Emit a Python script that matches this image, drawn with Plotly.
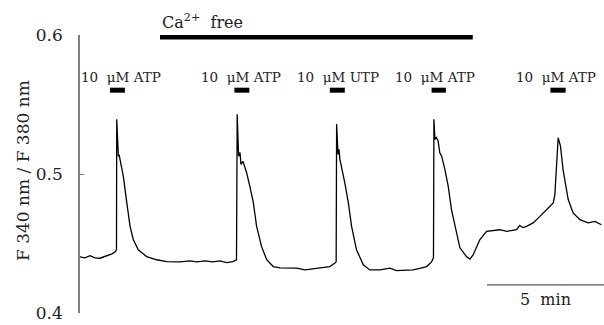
import plotly.graph_objects as go

# time (min) and F340/F380 ratio
time_min = [0, 0.21, 0.43, 0.64, 0.85, 1.03, 1.20, 1.37, 1.50, 1.56,
            1.57, 1.59, 1.62, 1.64, 1.67, 1.71, 1.85, 2.00, 2.14, 2.28, 2.49, 2.85, 3.28, 3.71,
            4.27, 4.70, 4.99, 5.34, 5.68, 5.98, 6.27, 6.54, 6.69,
            6.72, 6.75, 6.78, 6.84, 6.88, 6.97, 7.12, 7.26, 7.41, 7.55, 7.76, 7.98, 8.26, 8.55,
            9.26, 9.62, 9.96, 10.26, 10.68, 10.90, 10.95,
            10.97, 11.00, 11.03, 11.07, 11.11, 11.32, 11.47, 11.61, 11.82, 12.11, 12.39, 12.82,
            13.25, 13.53, 13.89, 14.23, 14.53, 14.82, 15.03, 15.11,
            15.13, 15.17, 15.23, 15.31, 15.38, 15.46, 15.60, 15.74, 15.88, 16.03, 16.24, 16.53,
            16.67, 16.81, 17.09, 17.38, 17.95, 18.24, 18.66, 18.80, 18.93, 19.09, 19.37, 19.66,
            19.94, 20.23, 20.30, 20.37, 20.44, 20.54, 20.65, 20.87, 21.08, 21.37, 21.72, 22.01, 22.29]
ratio = [0.4404, 0.4397, 0.4412, 0.4397, 0.4394, 0.4404, 0.4419, 0.4426, 0.4440, 0.4455,
         0.5393, 0.5336, 0.5249, 0.5126, 0.5140, 0.5105, 0.4984, 0.4794, 0.4623, 0.4527, 0.4455, 0.4406, 0.4383, 0.4370,
         0.4368, 0.4375, 0.4368, 0.4375, 0.4368, 0.4375, 0.4363, 0.4370, 0.4383,
         0.5430, 0.5177, 0.5128, 0.5155, 0.5069, 0.5090, 0.5011, 0.4912, 0.4794, 0.4623, 0.4479, 0.4383, 0.4334, 0.4325,
         0.4323, 0.4310, 0.4318, 0.4325, 0.4334, 0.4359, 0.4368,
         0.5359, 0.5273, 0.5141, 0.5177, 0.5105, 0.4936, 0.4794, 0.4623, 0.4455, 0.4347, 0.4310, 0.4310,
         0.4323, 0.4305, 0.4310, 0.4310, 0.4321, 0.4334, 0.4368, 0.4397,
         0.5393, 0.5249, 0.5263, 0.5237, 0.5153, 0.5128, 0.5032, 0.4912, 0.4744, 0.4623, 0.4469, 0.4404,
         0.4388, 0.4419, 0.4527, 0.4587, 0.4599, 0.4587, 0.4599, 0.4630, 0.4614, 0.4623, 0.4648, 0.4695,
         0.4744, 0.4792, 0.4852, 0.5105, 0.5261, 0.5201, 0.5032, 0.4816, 0.4720, 0.4671, 0.4648, 0.4659, 0.4635]

# agonist applications (start, end in min) and labels
stim_start = [1.28, 6.60, 10.68, 15.03, 20.11]
stim_end = [1.92, 7.24, 11.32, 15.64, 20.76]
stim_label_x = [1.77, 6.88, 11.03, 15.17, 20.34]
stim_labels = ["10\u00a0 μM ATP", "10\u00a0 μM ATP", "10\u00a0 μM UTP", "10\u00a0 μM ATP", "10\u00a0 μM ATP"]

# Ca2+-free period
ca_free = [3.42, 16.79]

y_ticks = [0.4, 0.5, 0.6]
y_ticktext = ["0.4", "0.5", "0.6"]

scale_bar = [17.4, 22.4]  # 5 min

FONT = "DejaVu Serif"
TXT = "#222222"

fig = go.Figure()
fig.add_trace(go.Scatter(x=time_min, y=ratio, mode="lines",
                         line=dict(color="black", width=1.3), showlegend=False,
                         hoverinfo="skip"))

shapes = []
for s, e in zip(stim_start, stim_end):
    shapes.append(dict(type="line", xref="x", yref="y", x0=s, x1=e, y0=0.5603, y1=0.5603,
                       line=dict(color="black", width=5)))
shapes.append(dict(type="line", xref="x", yref="y", x0=ca_free[0], x1=ca_free[1],
                   y0=0.5986, y1=0.5986, line=dict(color="black", width=5)))
shapes.append(dict(type="line", xref="x", yref="y", x0=scale_bar[0], x1=scale_bar[1],
                   y0=0.4202, y1=0.4202, line=dict(color="#555555", width=1.2)))

annotations = []
for xl, lab in zip(stim_label_x, stim_labels):
    annotations.append(dict(x=xl, y=0.5697, xref="x", yref="y", text=lab, showarrow=False,
                            font=dict(family=FONT, size=13.5, color=TXT),
                            xanchor="center", yanchor="middle"))
annotations.append(dict(x=ca_free[0], y=1.047, xref="x", yref="paper",
                        text="Ca<sup>2+</sup>\u00a0 free", showarrow=False,
                        font=dict(family=FONT, size=16, color=TXT),
                        xanchor="left", yanchor="middle"))
annotations.append(dict(x=(scale_bar[0] + scale_bar[1]) / 2, y=0.4094, xref="x", yref="y",
                        text="5\u00a0 min", showarrow=False,
                        font=dict(family=FONT, size=16, color=TXT),
                        xanchor="center", yanchor="middle"))
annotations.append(dict(x=-0.109, y=0.514, xref="paper", yref="paper",
                        text="F 340 nm / F 380 nm", textangle=-90, showarrow=False,
                        font=dict(family=FONT, size=17, color=TXT),
                        xanchor="center", yanchor="middle"))

fig.update_layout(
    width=604, height=325,
    margin=dict(l=80, r=0, t=35, b=12),
    paper_bgcolor="white", plot_bgcolor="white",
    shapes=shapes, annotations=annotations,
    xaxis=dict(range=[0, 22.4], visible=False, showgrid=False, zeroline=False),
    yaxis=dict(range=[0.4, 0.6], tickvals=y_ticks, ticktext=y_ticktext,
               showline=True, linecolor="#808080", linewidth=1.5,
               ticks="inside", ticklen=4, tickcolor="#808080",
               showgrid=False, zeroline=False, ticklabelstandoff=12,
               tickfont=dict(family=FONT, size=17, color=TXT)),
)

fig.write_html("out.html")
